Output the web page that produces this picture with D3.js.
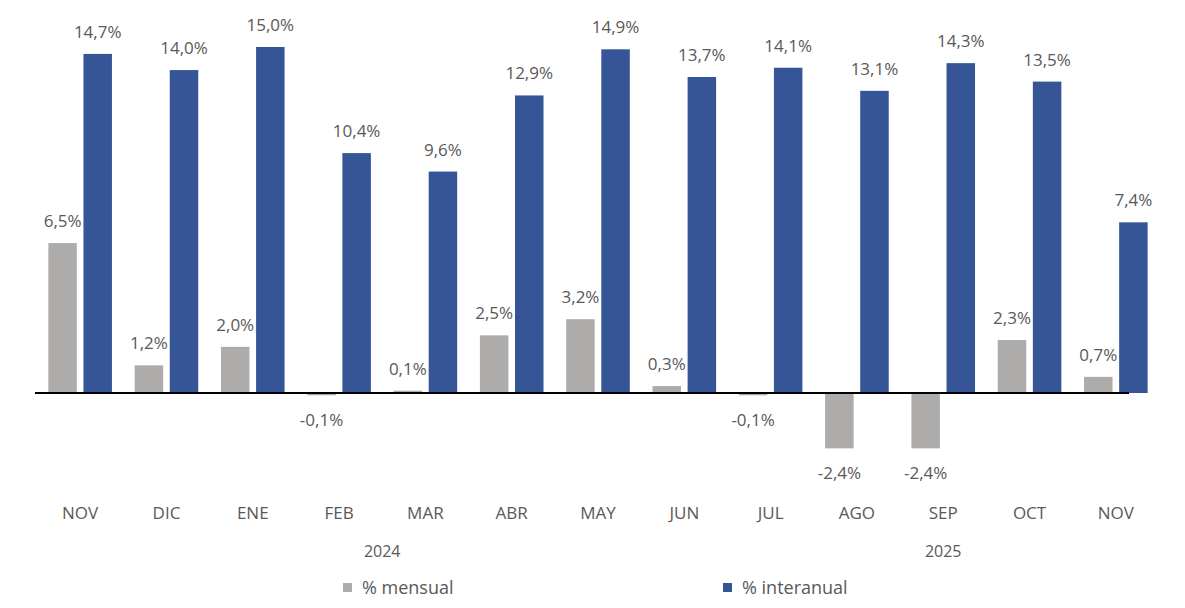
<!DOCTYPE html>
<html>
<head>
<meta charset="utf-8">
<script src="https://cdn.jsdelivr.net/npm/d3@7"></script>
<style>
  body { margin: 0; background: #fff; }
  #chart { width: 1185px; height: 608px; }
  text { font-family: "Open Sans", "Noto Sans", sans-serif; fill: #595959; }
</style>
</head>
<body>
<div id="chart"></div>
<script>
// month categories and the year each one is grouped under on the axis
const months = ["NOV", "DIC", "ENE", "FEB", "MAR", "ABR", "MAY", "JUN", "JUL", "AGO", "SEP", "OCT", "NOV"];
const years = ["2024", "2024", "2024", "2024", "2024", "2024", "2024", "2024", "2025", "2025", "2025", "2025", "2025"];
const mensual = [6.5, 1.2, 2.0, -0.1, 0.1, 2.5, 3.2, 0.3, -0.1, -2.4, -2.4, 2.3, 0.7];
const interanual = [14.7, 14.0, 15.0, 10.4, 9.6, 12.9, 14.9, 13.7, 14.1, 13.1, 14.3, 13.5, 7.4];
const seriesNames = ["% mensual", "% interanual"];
const colors = ["#aeabab", "#355597"];

const width = 1185;
const height = 608;

const svg = d3.select("#chart")
    .append("svg")
    .attr("width", width)
    .attr("height", height);

// build rows: one per month, index keeps the two NOVs apart
const rows = months.map((m, i) => ({ i: i, month: m, year: years[i], values: [mensual[i], interanual[i]] }));

const x0 = d3.scaleBand()
    .domain(d3.range(months.length))
    .range([37, 1159])
    .paddingInner(0.263)
    .paddingOuter(0.1315);

const x1 = d3.scaleBand()
    .domain([0, 1])
    .range([0, x0.bandwidth()])
    .paddingInner(0.188);

const y = d3.scaleLinear()
    .domain([0, 15])
    .range([393, 47]);

// spanish style: comma decimal, plain hyphen for negatives
const fmt = v => (v < 0 ? "-" : "") + Math.abs(v).toFixed(1).replace(".", ",") + "%";

// bars
const groups = svg.append("g")
    .selectAll("g")
    .data(rows)
    .join("g")
    .attr("transform", d => `translate(${x0(d.i)},0)`);

groups.selectAll("rect")
    .data(d => d.values.map((v, k) => ({ k: k, v: v })))
    .join("rect")
    .attr("x", d => x1(d.k))
    .attr("width", x1.bandwidth())
    .attr("y", d => y(Math.max(0, d.v)))
    .attr("height", d => Math.max(1.5, Math.abs(y(d.v) - y(0))))
    .attr("fill", d => colors[d.k]);

// value labels
groups.selectAll("text")
    .data(d => d.values.map((v, k) => ({ k: k, v: v })))
    .join("text")
    .attr("x", d => x1(d.k) + x1.bandwidth() / 2)
    .attr("y", d => d.v >= 0 ? y(d.v) - 16 : y(d.v) + 31)
    .attr("text-anchor", "middle")
    .style("font-size", "17px")
    .text(d => fmt(d.v));

// zero line
svg.append("line")
    .attr("x1", 35)
    .attr("x2", 1129)
    .attr("y1", y(0))
    .attr("y2", y(0))
    .attr("stroke", "#000")
    .attr("stroke-width", 2);

// month labels
svg.append("g")
    .selectAll("text")
    .data(rows)
    .join("text")
    .attr("x", d => x0(d.i) + x0.bandwidth() / 2)
    .attr("y", 519)
    .attr("text-anchor", "middle")
    .style("font-size", "17px")
    .text(d => d.month);

// year labels, centred over their group of months
const yearGroups = d3.groups(rows, d => d.year);
svg.append("g")
    .selectAll("text")
    .data(yearGroups)
    .join("text")
    .attr("x", d => {
        const first = d[1][0].i, last = d[1][d[1].length - 1].i;
        return (x0(first) + x0(last) + x0.bandwidth()) / 2;
    })
    .attr("y", 557)
    .attr("text-anchor", "middle")
    .style("font-size", "16px")
    .text(d => d[0]);

// legend
const legend = svg.append("g")
    .selectAll("g")
    .data(seriesNames)
    .join("g")
    .attr("transform", (d, i) => `translate(${[343, 723][i]},583)`);

legend.append("rect")
    .attr("width", 9)
    .attr("height", 9)
    .attr("fill", (d, i) => colors[i]);

legend.append("text")
    .attr("x", 19)
    .attr("y", 11)
    .style("font-size", "18px")
    .text(d => d);
</script>
</body>
</html>
